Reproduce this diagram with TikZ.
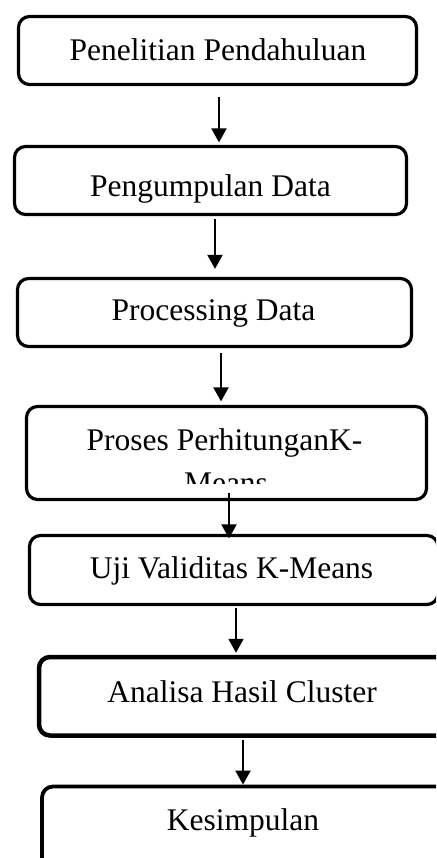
\documentclass[tikz,border=0pt]{standalone}
\usepackage{fontspec}
\setmainfont{Liberation Serif}
\usetikzlibrary{arrows.meta,calc}
\tikzset{
  box/.style={draw=black, line width=3.2pt, rounded corners=11pt, inner sep=0pt, rectangle},
  lbl/.style={inner sep=0pt, anchor=base, font=\fontsize{31.5}{36}\selectfont},
  arr/.style={draw=black, line width=2pt, -{Triangle[width=15pt,length=14pt]}}
}
\begin{document}
\begin{tikzpicture}[x=1pt,y=-1pt]
\useasboundingbox (0,0) rectangle (436,858);
\clip (0,0) rectangle (436,858);
% boxes
\node[box, minimum width=398pt, minimum height=68pt] (b1) at (217.5,50.5) {};
\node[box, minimum width=392pt, minimum height=68pt] (b2) at (210.5,180.5) {};
\node[box, minimum width=394pt, minimum height=68pt] (b3) at (214.5,312.5) {};
\node[box, minimum width=400pt, minimum height=93pt] (b4) at (226.5,453) {};
\node[box, minimum width=408.5pt, minimum height=69pt] (b5) at (233.75,570) {};
\node[box, line width=4.5pt, minimum width=411pt, minimum height=78.5pt] (b6) at (244.5,696.25) {};
\node[box, line width=3.8pt, minimum width=408pt, minimum height=103.5pt] (b7) at (246,838.25) {};
% labels
\node[lbl] (t1) at (218,61) {Penelitian Pendahuluan};
\node[lbl] (t2) at (210.5,197) {Pengumpulan Data};
\node[lbl] (t3) at (213.5,320) {Processing Data};
\node[lbl] (t4) at (224.5,450) {Proses PerhitunganK-};
\begin{scope}
\clip (20,460) rectangle (430,483);
\node[lbl] (t4b) at (226,493) {Means};
\end{scope}
\node[lbl] (t5) at (231.5,578) {Uji Validitas K-Means};
\node[lbl] (t6) at (242,702) {Analisa Hasil Cluster};
\node[lbl] (t7) at (243,830) {Kesimpulan};
% arrow start points
\coordinate (s1) at (219,97);
\coordinate (s2) at (215,219);
\coordinate (s3) at (221,353);
\coordinate (s4) at (229,493);
\coordinate (s5) at (236,608);
\coordinate (s6) at (243,740);
% connectors
\draw[arr] (s1) -- ([yshift=2.5pt]s1 |- b2.north);
\draw[arr] (s2) -- ([yshift=8pt]s2 |- b3.north);
\draw[arr] (s3) -- ([yshift=3.5pt]s3 |- b4.north);
\draw[arr] (s4) -- ([yshift=-4.5pt]s4 |- b5.north);
\draw[arr] (s5) -- ([yshift=2pt]s5 |- b6.north);
\draw[arr] (s6) -- (s6 |- b7.north);
\end{tikzpicture}
\end{document}
